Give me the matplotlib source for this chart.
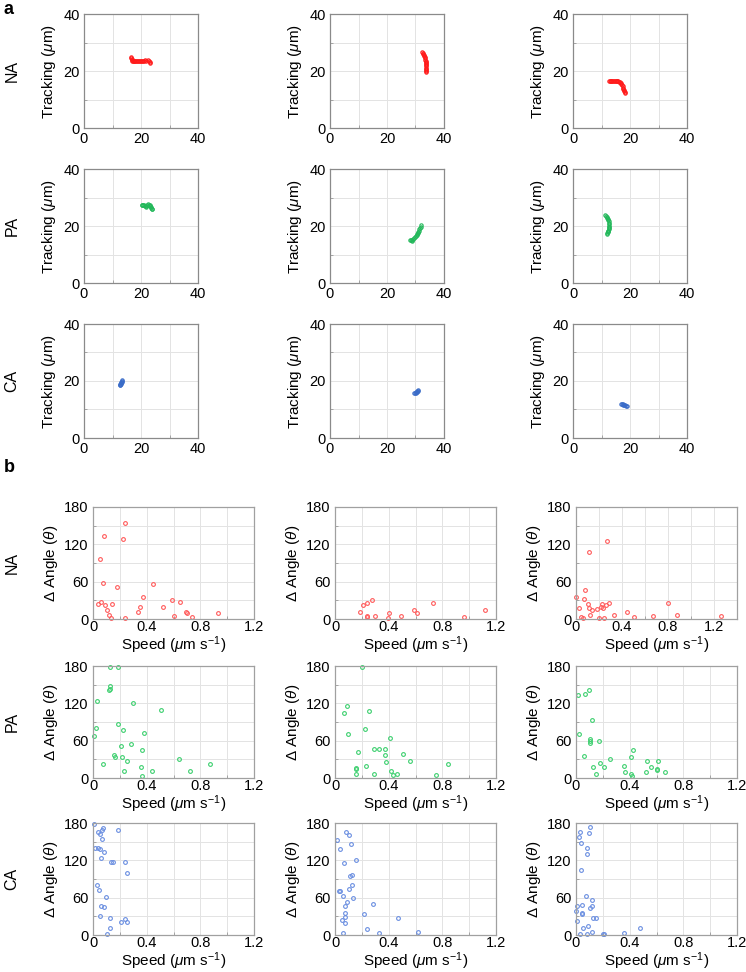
import matplotlib
matplotlib.use("Agg")
import matplotlib.pyplot as plt
from matplotlib.ticker import MultipleLocator

plt.rcParams['font.family'] = ['Liberation Sans', 'DejaVu Sans']
plt.rcParams['mathtext.fontset'] = 'custom'
plt.rcParams['mathtext.rm'] = 'Liberation Sans'
plt.rcParams['mathtext.it'] = 'Liberation Sans:italic'
plt.rcParams['mathtext.bf'] = 'Liberation Sans:bold'

rows = ["NA", "PA", "CA"]

# ---------------- panel a: tracks (x, y in um) ----------------
na1_x = [16.6, 16.6, 16.7, 16.8, 16.9, 17.2, 17.4, 17.6, 17.9, 18.2, 18.5, 18.8, 19.2, 19.5, 19.9, 20.3,
         20.7, 21.1, 21.5, 21.9, 22.3, 22.7, 23.0, 23.3]
na1_y = [24.9, 24.5, 24.1, 23.8, 23.6, 23.5, 23.6, 23.4, 23.5, 23.4, 23.5, 23.4, 23.5, 23.4, 23.5, 23.6,
         23.5, 23.6, 23.7, 23.6, 23.7, 23.6, 23.3, 22.9]
na2_x = [32.3, 32.5, 32.7, 32.9, 33.1, 33.3, 33.4, 33.5, 33.6, 33.7, 33.8, 33.8, 33.8, 33.8, 33.8, 33.7,
         33.7, 33.6, 33.6]
na2_y = [26.8, 26.4, 26.0, 25.6, 25.2, 24.8, 24.4, 24.0, 23.6, 23.2, 22.8, 22.4, 22.0, 21.6, 21.2, 20.8,
         20.4, 20.0, 19.7]
na3_x = [12.6, 12.9, 13.2, 13.5, 13.8, 14.1, 14.4, 14.7, 15.0, 15.3, 15.6, 15.9, 16.2, 16.5, 16.8, 17.0,
         17.2, 17.4, 17.6, 17.7, 17.9, 18.0, 18.1, 18.2]
na3_y = [16.4, 16.5, 16.5, 16.4, 16.5, 16.5, 16.6, 16.5, 16.5, 16.6, 16.5, 16.4, 16.3, 16.1, 15.8, 15.4,
         15.0, 14.6, 14.2, 13.8, 13.4, 13.0, 12.6, 12.2]
pa1_x = [20.2, 20.5, 20.8, 21.1, 21.4, 21.6, 21.9, 22.2, 22.5, 22.8, 23.1, 23.3, 23.5, 23.6, 23.7, 23.8]
pa1_y = [27.3, 27.5, 27.4, 27.2, 26.9, 26.7, 27.0, 27.4, 27.6, 27.5, 27.3, 27.0, 26.7, 26.4, 26.1, 25.8]
pa2_x = [28.0, 28.3, 28.6, 28.9, 29.2, 29.5, 29.8, 30.1, 30.4, 30.6, 30.8, 31.0, 31.2, 31.4, 31.6, 31.8, 32.0]
pa2_y = [15.2, 15.0, 14.9, 15.1, 15.4, 15.7, 16.1, 16.5, 16.9, 17.3, 17.7, 18.0, 18.4, 18.8, 19.3, 19.8, 20.2]
pa3_x = [11.4, 11.6, 11.8, 12.0, 12.2, 12.4, 12.5, 12.6, 12.7, 12.7, 12.7, 12.6, 12.5, 12.4, 12.3, 12.2,
         12.1, 12.0]
pa3_y = [24.0, 23.6, 23.2, 22.8, 22.4, 22.0, 21.6, 21.1, 20.6, 20.1, 19.6, 19.2, 18.8, 18.4, 18.1, 17.8,
         17.5, 17.2]
ca1_x = [12.6, 12.7, 12.8, 12.9, 13.0, 13.1, 13.2, 13.3, 13.4]
ca1_y = [18.5, 18.7, 18.9, 19.1, 19.3, 19.6, 19.8, 20.0, 20.2]
ca2_x = [29.6, 29.9, 30.1, 30.3, 30.5, 30.7, 30.9, 31.0]
ca2_y = [15.7, 15.8, 15.9, 16.1, 16.2, 16.4, 16.6, 16.8]
ca3_x = [16.8, 17.1, 17.4, 17.7, 18.0, 18.3, 18.6, 18.8]
ca3_y = [12.0, 11.9, 11.8, 11.7, 11.6, 11.5, 11.4, 11.4]

# ---------------- panel b: speed (um/s) vs delta angle (deg) ----------------
na1_speed = [0.04, 0.06, 0.053, 0.073, 0.083, 0.088, 0.106, 0.118, 0.131, 0.144, 0.18, 0.22, 0.24, 0.24,
             0.335, 0.35, 0.373, 0.45, 0.52, 0.59, 0.60, 0.645, 0.69, 0.70, 0.74, 0.93]
na1_angle = [24.5, 27, 96, 58, 134, 22, 15, 6, 1, 24, 52, 129, 155, 1,
             12, 19, 36, 56, 20, 31, 5, 27, 11, 9, 4, 9]
na2_speed = [0.184, 0.21, 0.236, 0.276, 0.24, 0.24, 0.30, 0.40, 0.395, 0.49, 0.59, 0.61, 0.73, 0.96, 1.12]
na2_angle = [12, 22, 25, 31, 5, 3, 5, 9, 2, 5, 14, 10, 25, 4, 14]
na3_speed = [0.0, 0.023, 0.04, 0.06, 0.073, 0.08, 0.10, 0.11, 0.12, 0.116, 0.14, 0.18, 0.20, 0.215,
             0.225, 0.236, 0.245, 0.265, 0.27, 0.285, 0.33, 0.44, 0.50, 0.67, 0.80, 0.875, 1.26]
na3_angle = [36, 17, 3, 2, 32, 47, 24, 17, 7, 108, 15, 16, 2, 20,
             24, 17, 2, 22, 125, 26, 7, 12, 4, 5, 26, 7, 5]
pa1_speed = [0.13, 0.19, 0.126, 0.12, 0.13, 0.032, 0.30, 0.51, 0.02, 0.01, 0.186, 0.22, 0.38, 0.21,
             0.285, 0.364, 0.156, 0.163, 0.218, 0.25, 0.64, 0.074, 0.87, 0.36, 0.228, 0.443, 0.72, 0.364]
pa1_angle = [178, 178, 148, 142, 143, 123, 120, 110, 80, 67, 86, 77, 73, 52,
             55, 45, 37, 34, 33, 27, 30, 22, 22, 18, 12, 11, 12, 3]
pa2_speed = [0.20, 0.086, 0.066, 0.25, 0.22, 0.098, 0.41, 0.29, 0.33, 0.37, 0.37, 0.17, 0.51,
             0.38, 0.56, 0.84, 0.23, 0.16, 0.16, 0.16, 0.29, 0.42, 0.43, 0.46, 0.75]
pa2_angle = [178, 115, 104, 107, 78, 70, 65, 47, 47, 46, 37, 42, 39,
             26, 28, 23, 19, 16, 14, 6, 6, 11, 5, 6, 5]
pa3_speed = [0.015, 0.068, 0.10, 0.118, 0.02, 0.108, 0.103, 0.108, 0.173, 0.063, 0.425, 0.41, 0.25, 0.18,
             0.13, 0.206, 0.146, 0.36, 0.365, 0.41, 0.42, 0.53, 0.61, 0.56, 0.60, 0.60, 0.52, 0.66]
pa3_angle = [133, 135, 142, 94, 71, 62, 57, 59, 59, 36, 45, 33, 30, 24,
             18, 18, 6, 20, 10, 7, 3, 27, 27, 17, 14, 13, 9, 9]
ca1_speed = [0.01, 0.04, 0.05, 0.075, 0.07, 0.185, 0.065, 0.0125, 0.035, 0.055, 0.08, 0.06, 0.137, 0.15,
             0.24, 0.255, 0.033, 0.045, 0.10, 0.06, 0.08, 0.05, 0.13, 0.24, 0.25, 0.21, 0.13, 0.107]
ca1_angle = [179, 165, 162, 172, 168, 168, 154, 140, 140, 138, 134, 123, 118, 118,
             118, 100, 81, 73, 61, 47, 45, 30, 27, 25, 21, 21, 12, 2]
ca2_speed = [0.015, 0.083, 0.108, 0.12, 0.034, 0.066, 0.16, 0.11, 0.123, 0.127, 0.108, 0.027, 0.034, 0.059,
             0.135, 0.088, 0.074, 0.284, 0.074, 0.076, 0.218, 0.054, 0.078, 0.47, 0.235, 0.33, 0.06, 0.62]
ca2_angle = [153, 165, 161, 147, 138, 116, 121, 95, 97, 80, 74, 70, 70, 62,
             59, 53, 46, 50, 35, 29, 33, 24, 20, 27, 10, 4, 3, 5]
ca3_speed = [0.027, 0.025, 0.035, 0.104, 0.097, 0.082, 0.08, 0.035, 0.074, 0.117, 0.01, 0.045, 0.117, 0.107,
             0.0, 0.045, 0.042, 0.127, 0.15, 0.007, 0.05, 0.089, 0.117, 0.03, 0.084, 0.2, 0.206, 0.36, 0.48]
ca3_angle = [165, 158, 148, 174, 164, 140, 130, 105, 62, 57, 46, 48, 46, 43,
             39, 35, 33, 28, 28, 23, 11, 15, 5, 1, 1, 2, 1, 4, 12]

tracks = [[(na1_x, na1_y), (na2_x, na2_y), (na3_x, na3_y)],
          [(pa1_x, pa1_y), (pa2_x, pa2_y), (pa3_x, pa3_y)],
          [(ca1_x, ca1_y), (ca2_x, ca2_y), (ca3_x, ca3_y)]]
scatters = [[(na1_speed, na1_angle), (na2_speed, na2_angle), (na3_speed, na3_angle)],
            [(pa1_speed, pa1_angle), (pa2_speed, pa2_angle), (pa3_speed, pa3_angle)],
            [(ca1_speed, ca1_angle), (ca2_speed, ca2_angle), (ca3_speed, ca3_angle)]]
xmax_b = [[1.2, 1.2, 1.4], [1.2, 1.2, 1.2], [1.2, 1.2, 1.2]]

col_a = ['#ff1a1a', '#22b85a', '#3a6cc8']
col_b = ['#ff5a5a', '#3ccf6e', '#6a8ee0']

W, H = 746, 972
fig = plt.figure(figsize=(W / 100, H / 100), dpi=100)

def add_ax(left, top, w, h):
    return fig.add_axes([left / W, 1 - (top + h) / H, w / W, h / H])

def style(ax, spine='#8a8a8a'):
    for s in ax.spines.values():
        s.set_color(spine)
        s.set_linewidth(0.9)
    ax.grid(True, which='both', color='#e3e3e3', linewidth=0.7)
    ax.set_axisbelow(True)
    ax.tick_params(which='major', length=0, labelsize=10.5, pad=3, colors='black')
    ax.tick_params(which='minor', length=2.5, width=0.6, color='#999999', direction='in')

a_left = [84, 330, 573]
a_top = [14, 169, 324]
a_w, a_h = 114, 114
for r in range(3):
    for c in range(3):
        ax = add_ax(a_left[c], a_top[r], a_w, a_h)
        x, y = tracks[r][c]
        ax.plot(x, y, 'o', mfc='none', mec=col_a[r], ms=2.4, mew=0.8)
        ax.set_xlim(0, 40)
        ax.set_ylim(0, 40)
        ax.xaxis.set_major_locator(MultipleLocator(20))
        ax.yaxis.set_major_locator(MultipleLocator(20))
        ax.xaxis.set_minor_locator(MultipleLocator(10))
        ax.yaxis.set_minor_locator(MultipleLocator(10))
        style(ax)
        ax.set_ylabel(r'Tracking ($\mu$m)', fontsize=11, labelpad=4)

b_left = [93, 335, 576]
b_top = [507, 666, 823]
b_w, b_h = 161, 112
for r in range(3):
    for c in range(3):
        ax = add_ax(b_left[c], b_top[r], b_w, b_h)
        x, y = scatters[r][c]
        ax.plot(x, y, 'o', mfc='none', mec=col_b[r], ms=2.7, mew=0.8, clip_on=False)
        ax.set_xlim(0, xmax_b[r][c])
        ax.set_ylim(0, 180)
        ax.xaxis.set_major_locator(MultipleLocator(0.4))
        ax.yaxis.set_major_locator(MultipleLocator(60))
        ax.xaxis.set_minor_locator(MultipleLocator(0.2))
        ax.yaxis.set_minor_locator(MultipleLocator(30))
        ax.xaxis.set_major_formatter(plt.FuncFormatter(lambda v, p: '0' if v == 0 else f'{v:.1f}'))
        style(ax, spine='#a0a0a0')
        ax.tick_params(axis='x', pad=1)
        ax.set_ylabel(r'$\Delta$ Angle ($\theta$)', fontsize=11, labelpad=3)
        ax.set_xlabel(r'Speed ($\mu$m s$^{\mathregular{-1}}$)', fontsize=11, labelpad=0)

for r in range(3):
    yc = a_top[r] + a_h / 2
    fig.text(12 / W, 1 - yc / H, rows[r], rotation=90, ha='center', va='center', fontsize=11.5)
    yc = b_top[r] + b_h / 2
    fig.text(12 / W, 1 - yc / H, rows[r], rotation=90, ha='center', va='center', fontsize=11.5)

fig.text(4 / W, 1 - 10 / H, 'a', fontsize=13, fontweight='bold', ha='left', va='center')
fig.text(4 / W, 1 - 467 / H, 'b', fontsize=13, fontweight='bold', ha='left', va='center')

fig.savefig('out.png', dpi=100)
